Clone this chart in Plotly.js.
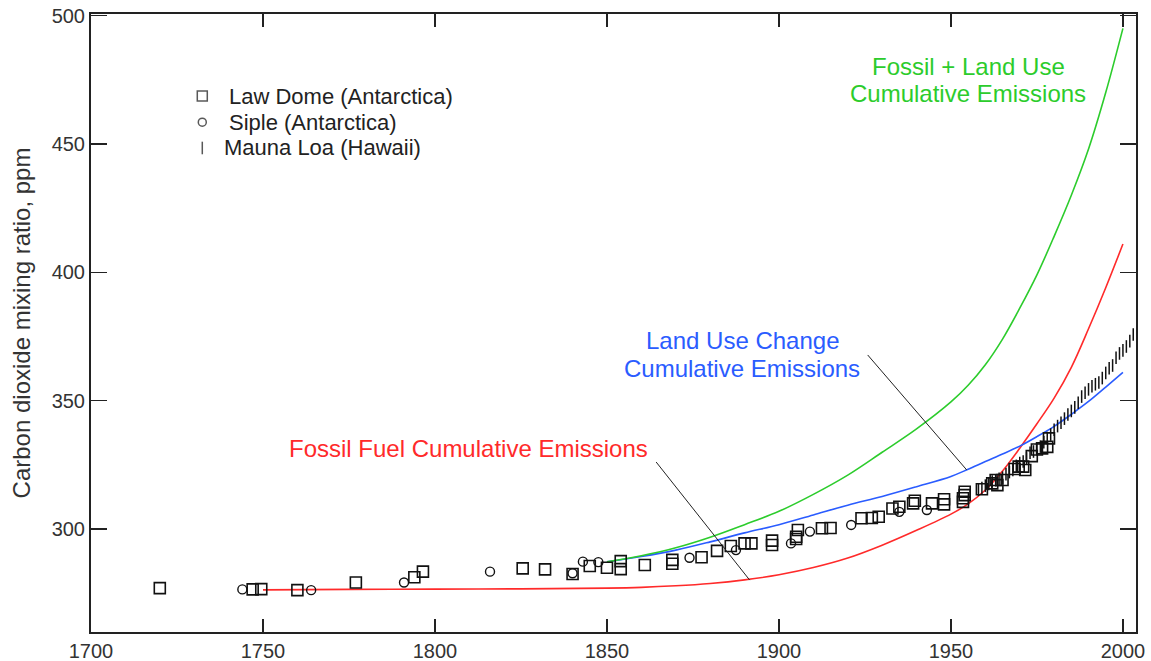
<!DOCTYPE html>
<html>
<head>
<meta charset="utf-8">
<script src="https://cdn.plot.ly/plotly-3.0.1.min.js"></script>
<style>
  html, body { margin: 0; padding: 0; background: #fff; }
  #chart { width: 1151px; height: 661px; }
</style>
</head>
<body>
<div id="chart"></div>
<script>
// Law Dome ice core (Antarctica)
const lawDomeYear = [1720, 1747, 1749.5, 1760, 1777, 1794, 1796.5, 1825.5, 1832, 1840, 1845, 1850, 1854, 1854,
  1861, 1869, 1869, 1877.5, 1882, 1886, 1890, 1892, 1898, 1898, 1905, 1905, 1905.5, 1912.5, 1915,
  1924, 1927, 1929, 1933, 1935, 1939, 1939.5, 1944.5, 1948, 1948, 1953.5, 1953.5, 1954, 1954,
  1959, 1962, 1963, 1963.5, 1965, 1968.5, 1969.7, 1971, 1971.6, 1973.5, 1975, 1976.5, 1978, 1978.5];
const lawDomeCO2 = [277.0, 276.5, 276.6, 276.2, 279.2, 281.2, 283.4, 284.7, 284.3, 282.5, 285.6, 284.9, 284.4, 287.5,
  286.0, 286.5, 288.0, 289.0, 291.5, 293.4, 294.4, 294.4, 293.8, 295.5, 296.1, 297.0, 299.6, 300.3, 300.4,
  304.2, 304.3, 304.8, 308.0, 308.7, 310.0, 311.0, 310.0, 309.6, 311.6, 310.6, 312.0, 313.2, 314.5,
  315.5, 317.8, 319.1, 317.1, 319.1, 323.4, 324.3, 324.3, 323.0, 328.4, 331.0, 331.4, 332.0, 335.3];

// Siple ice core (Antarctica)
const sipleYear = [1744, 1764, 1791, 1816, 1840, 1843, 1847.5, 1874, 1887.5, 1903.5, 1909, 1921, 1935, 1943];
const sipleCO2 = [276.5, 276.2, 279.2, 283.4, 282.8, 287.3, 287.1, 288.8, 291.8, 294.4, 299.0, 301.6, 306.7, 307.4];

// Mauna Loa annual means (Hawaii)
const maunaLoaYear = [1958, 1959, 1960, 1961, 1962, 1963, 1964, 1965, 1966, 1967, 1968, 1969, 1970, 1971, 1972,
  1973, 1974, 1975, 1976, 1977, 1978, 1979, 1980, 1981, 1982, 1983, 1984, 1985, 1986, 1987, 1988, 1989,
  1990, 1991, 1992, 1993, 1994, 1995, 1996, 1997, 1998, 1999, 2000, 2001, 2002, 2003];
const maunaLoaCO2 = [315.3, 316.0, 316.9, 317.6, 318.5, 319.0, 319.6, 320.0, 321.4, 322.2, 323.0, 324.6, 325.7, 326.3, 327.5,
  329.7, 330.2, 331.1, 332.1, 333.8, 335.4, 336.8, 338.7, 340.1, 341.4, 343.0, 344.6, 346.0, 347.4, 349.2, 351.6, 353.1,
  354.4, 355.6, 356.4, 357.1, 358.8, 360.8, 362.6, 363.7, 366.7, 368.4, 369.6, 371.1, 373.2, 375.8];

// Modelled concentration from cumulative emissions
const fossilYear = [1750, 1775, 1800, 1825, 1850, 1860, 1870, 1880, 1890, 1900, 1910, 1920, 1930, 1940, 1950,
  1955, 1960, 1965, 1970, 1975, 1980, 1985, 1990, 1995, 2000];
const fossilCO2 = [276.3, 276.5, 276.6, 276.7, 277.0, 277.3, 277.9, 278.8, 280.2, 282.2, 285.0, 288.7, 293.7, 299.5, 305.8,
  309.8, 315.2, 322.6, 331.5, 341.0, 351.0, 363.0, 378.0, 394.0, 411.0];

const landYear = [1850, 1860, 1870, 1880, 1890, 1900, 1910, 1920, 1930, 1940, 1950, 1955, 1960, 1965, 1970,
  1975, 1980, 1985, 1990, 1995, 2000];
const landCO2 = [287.2, 289.3, 291.8, 295.0, 298.5, 301.7, 305.5, 309.3, 312.7, 316.5, 320.5, 323.3, 326.3, 329.2, 332.3,
  336.0, 340.0, 344.7, 349.7, 355.3, 361.0];

const totalYear = [1850, 1860, 1870, 1880, 1890, 1900, 1910, 1920, 1930, 1940, 1950, 1955, 1960, 1965, 1970,
  1975, 1980, 1985, 1990, 1995, 2000];
const totalCO2 = [287.2, 289.6, 292.7, 296.8, 301.7, 306.9, 313.5, 321.0, 329.9, 339.0, 349.5, 356.0, 364.0, 374.0, 386.0,
  399.0, 414.0, 430.0, 448.0, 470.0, 495.0];

const xTicks = [1700, 1750, 1800, 1850, 1900, 1950, 2000];
const yTicks = [300, 350, 400, 450, 500];

const legendLabels = ['Law Dome (Antarctica)', 'Siple (Antarctica)', 'Mauna Loa (Hawaii)'];

const RED = '#ff2a2a', BLUE = '#2a5cff', GREEN = '#2ccc2c';
const FONT = 'Liberation Sans, Arial, Helvetica, sans-serif';
const LABEL_SIZE = 24;
const KEY_SIZE = 22;
const keyRows = [0.8673, 0.825, 0.7832];

const traces = [
  { x: fossilYear, y: fossilCO2, mode: 'lines', line: { color: RED, width: 1.6, shape: 'spline' }, hoverinfo: 'skip' },
  { x: landYear, y: landCO2, mode: 'lines', line: { color: BLUE, width: 1.6, shape: 'spline' }, hoverinfo: 'skip' },
  { x: totalYear, y: totalCO2, mode: 'lines', line: { color: GREEN, width: 1.6, shape: 'spline' }, hoverinfo: 'skip' },
  { x: lawDomeYear, y: lawDomeCO2, mode: 'markers',
    marker: { symbol: 'square-open', size: 11, color: '#111', line: { width: 1.6 } } },
  { x: sipleYear, y: sipleCO2, mode: 'markers',
    marker: { symbol: 'circle-open', size: 9, color: '#111', line: { width: 1.4 } } },
  { x: maunaLoaYear, y: maunaLoaCO2, mode: 'markers',
    marker: { symbol: 'line-ns-open', size: 9, color: '#111', line: { width: 1.5, color: '#111' } } },
  // key symbols, drawn on an overlay axis spanning the plot area
  { x: [0.1065, 0.1065, 0.1065], y: keyRows, xaxis: 'x2', yaxis: 'y2', mode: 'markers',
    marker: { symbol: ['square-open', 'circle-open', 'line-ns-open'], size: [10, 8, 9], color: '#111',
              line: { width: 1.5, color: '#111' } }, hoverinfo: 'skip' }
];

const annotations = [
  { xref: 'x2', yref: 'y2', x: 0.1304, y: keyRows[0], text: legendLabels[0] },
  { xref: 'x2', yref: 'y2', x: 0.1304, y: keyRows[1], text: legendLabels[1] },
  { xref: 'x2', yref: 'y2', x: 0.1255, y: keyRows[2], text: legendLabels[2] }
].map(a => Object.assign({ showarrow: false, xanchor: 'left', yanchor: 'middle',
  font: { family: FONT, size: KEY_SIZE, color: '#222' } }, a));

function label(x, y, text, color) {
  return { xref: 'x', yref: 'y', x: x, y: y, text: text, showarrow: false, xanchor: 'center', yanchor: 'middle',
    font: { family: FONT, size: LABEL_SIZE, color: color } };
}
annotations.push(label(1955.0, 480.2, 'Fossil + Land Use', GREEN));
annotations.push(label(1955.0, 469.5, 'Cumulative Emissions', GREEN));
annotations.push(label(1889.3, 373.4, 'Land Use Change', BLUE));
annotations.push(label(1889.3, 362.7, 'Cumulative Emissions', BLUE));
annotations.push(label(1809.7, 331.2, 'Fossil Fuel Cumulative Emissions', RED));

const shapes = [
  { type: 'line', xref: 'x', yref: 'y', x0: 1864.3, y0: 326.1, x1: 1891.5, y1: 280.1, line: { color: '#222', width: 1 } },
  { type: 'line', xref: 'x', yref: 'y', x0: 1925.8, y0: 367.8, x1: 1954.6, y1: 323.0, line: { color: '#222', width: 1 } }
];

const layout = {
  width: 1151, height: 661,
  margin: { l: 91, r: 15, t: 14, b: 29 },
  paper_bgcolor: '#fff', plot_bgcolor: '#fff',
  showlegend: false,
  font: { family: FONT, color: '#222' },
  xaxis: {
    range: [1700, 2003.8], tickvals: xTicks, ticktext: xTicks.map(String),
    ticks: 'inside', ticklen: 13, tickwidth: 1.5, tickcolor: '#222',
    showline: true, linecolor: '#222', linewidth: 2, mirror: 'ticks',
    showgrid: false, zeroline: false,
    tickfont: { family: FONT, size: 20, color: '#333' }
  },
  yaxis: {
    range: [259.9, 500.6], tickvals: yTicks, ticktext: yTicks.map(String),
    ticks: 'inside', ticklen: 16, tickwidth: 1.5, tickcolor: '#222',
    showline: true, linecolor: '#222', linewidth: 2, mirror: 'ticks',
    showgrid: false, zeroline: false,
    tickfont: { family: FONT, size: 20, color: '#333' },
    title: { text: 'Carbon dioxide mixing ratio, ppm', font: { family: FONT, size: 24, color: '#333' }, standoff: 14 }
  },
  xaxis2: { overlaying: 'x', range: [0, 1], visible: false, fixedrange: true },
  yaxis2: { overlaying: 'y', range: [0, 1], visible: false, fixedrange: true },
  annotations: annotations,
  shapes: shapes
};

Plotly.newPlot('chart', traces, layout, { staticPlot: true, displayModeBar: false });
</script>
</body>
</html>
